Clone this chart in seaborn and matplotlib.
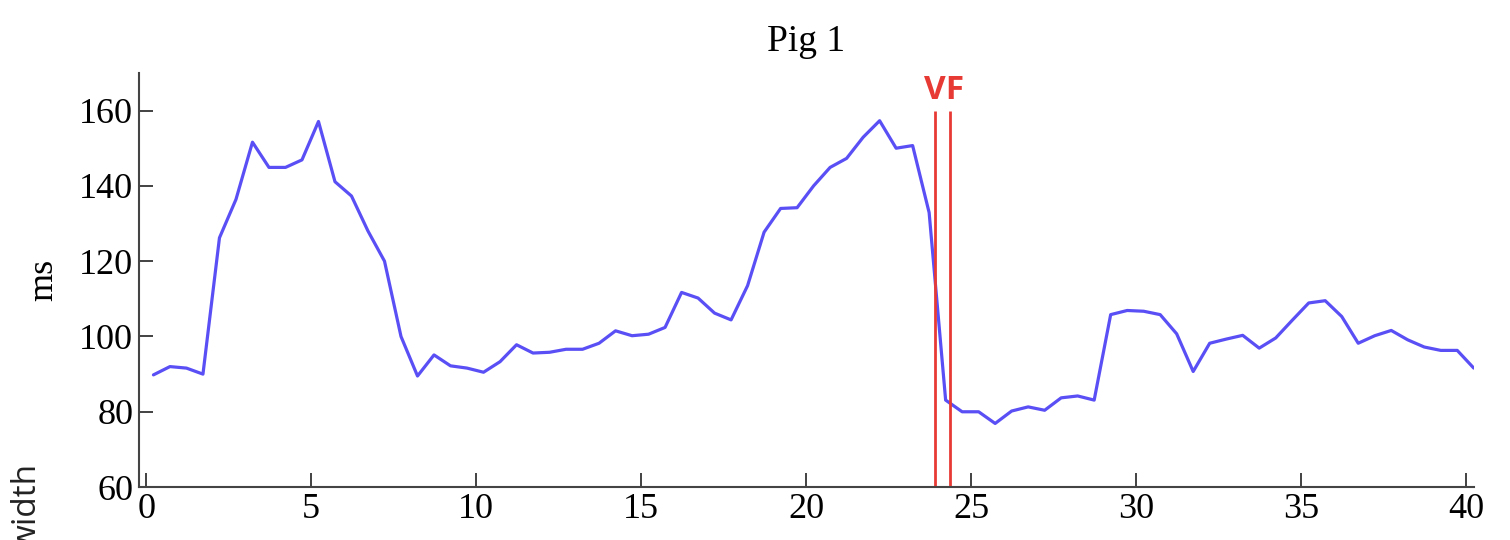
import numpy as np
import pandas as pd
import seaborn as sns
import matplotlib.pyplot as plt

# sample times (s) and pulse width (ms) for Pig 1
time_s = [0.22, 0.72, 1.22, 1.72, 2.22, 2.72, 3.22, 3.72, 4.22, 4.72,
          5.22, 5.72, 6.22, 6.72, 7.22, 7.72, 8.22, 8.72, 9.22, 9.72,
          10.22, 10.72, 11.22, 11.72, 12.22, 12.72, 13.22, 13.72, 14.22, 14.72,
          15.22, 15.72, 16.22, 16.72, 17.22, 17.72, 18.22, 18.72, 19.22, 19.72,
          20.22, 20.72, 21.22, 21.72, 22.22, 22.72, 23.22, 23.72, 24.22, 24.72,
          25.22, 25.72, 26.22, 26.72, 27.22, 27.72, 28.22, 28.72, 29.22, 29.72,
          30.22, 30.72, 31.22, 31.72, 32.22, 32.72, 33.22, 33.72, 34.22, 34.72,
          35.22, 35.72, 36.22, 36.72, 37.22, 37.72, 38.22, 38.72, 39.22, 39.72,
          40.22]
width_ms = [89.8, 92.0, 91.6, 90.0, 126.2, 136.4, 151.6, 144.9, 144.9, 146.9,
            157.1, 141.1, 137.3, 128.0, 120.0, 100.0, 89.5, 95.1, 92.2, 91.6,
            90.5, 93.3, 97.8, 95.6, 95.8, 96.6, 96.6, 98.2, 101.5, 100.2,
            100.6, 102.4, 111.7, 110.2, 106.2, 104.4, 113.5, 127.7, 134.0, 134.2,
            140.0, 144.9, 147.3, 152.9, 157.3, 150.0, 150.7, 132.9, 83.1, 80.0,
            80.0, 76.9, 80.2, 81.3, 80.4, 83.7, 84.2, 83.1, 105.8, 106.9,
            106.7, 105.8, 100.7, 90.7, 98.2, 99.3, 100.3, 96.9, 99.6, 104.3,
            108.9, 109.5, 105.3, 98.2, 100.2, 101.6, 99.1, 97.2, 96.3, 96.3,
            91.6]
vf_marks = [23.9, 24.35]

df = pd.DataFrame({"time": time_s, "width": width_ms})

sns.set_theme(style="ticks")
plt.rcParams["font.family"] = ["Liberation Serif", "DejaVu Serif"]
plt.rcParams["text.color"] = "black"
plt.rcParams["axes.labelcolor"] = "black"

fig = plt.figure(figsize=(15.1, 5.4), dpi=100)
ax = fig.add_axes([0.092, 0.098, 0.884, 0.767])

sns.lineplot(data=df, x="time", y="width", ax=ax, color="#5a4ff5", linewidth=2.3)
ax.vlines(vf_marks, 60, 160, colors="#e83a35", linewidth=2.0)
ax.text(np.mean(vf_marks) + 0.05, 161, "VF", color="#e83a35", fontsize=24,
        fontweight="bold", family=["Open Sans", "DejaVu Sans"],
        ha="center", va="bottom")

ax.set_xlim(-0.22, 40.22)
ax.set_ylim(60, 170)
ax.set_xticks([0, 5, 10, 15, 20, 25, 30, 35, 40])
ax.set_yticks([60, 80, 100, 120, 140, 160])
ax.tick_params(direction="in", length=10, width=1.3, labelsize=26, pad=4,
               colors="#333333", labelcolor="black")
ax.set_xlabel("")
ax.set_ylabel("ms", fontsize=26, labelpad=14, color="black")
ax.set_title("Pig 1", fontsize=27, pad=16, color="black")
sns.despine(ax=ax)
for s in ["left", "bottom"]:
    ax.spines[s].set_color("#444444")
    ax.spines[s].set_linewidth(1.5)

# axis label partly cut off at the bottom edge, as in the source figure
fig.text(0.018, 0.143, "width", rotation=90, ha="center", va="top",
         fontsize=24, family=["Open Sans", "DejaVu Sans"], color="#222222")

fig.savefig("out.png", dpi=100)
